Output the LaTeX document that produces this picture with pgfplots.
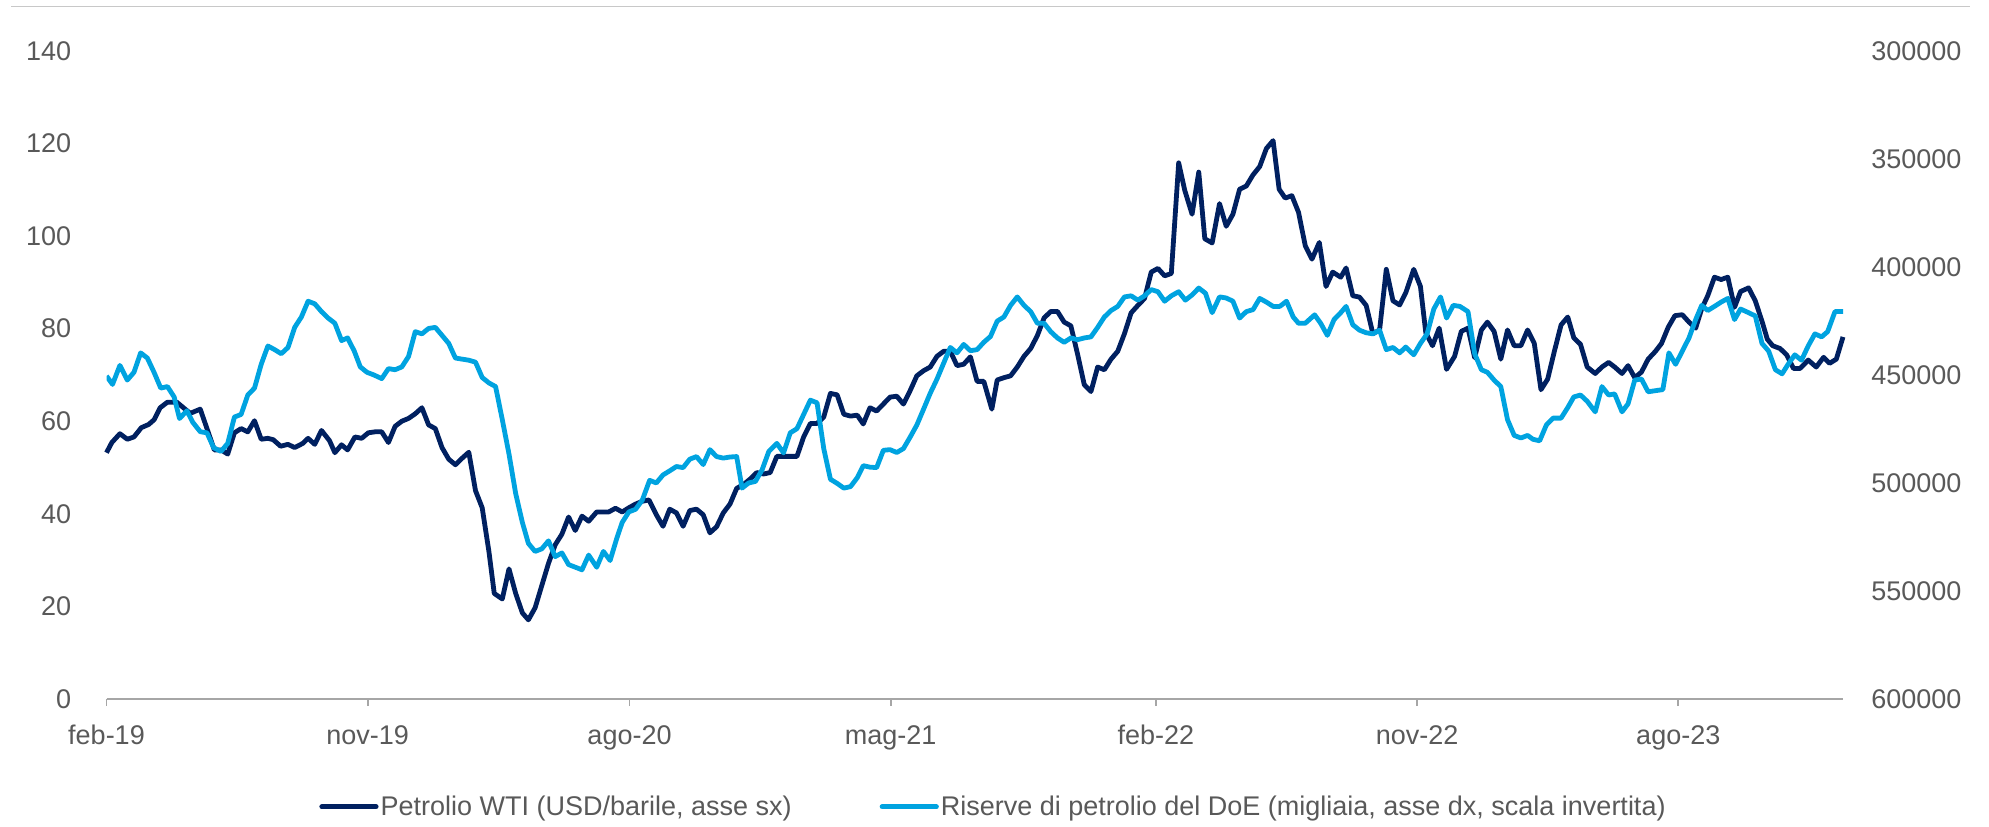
\documentclass[border=0pt]{standalone}
\usepackage{pgfplots}
\pgfplotsset{compat=1.18}
\usepackage{pgfplotstable}
\usepackage{fontspec}
\setmainfont{Liberation Sans}
\definecolor{wti}{HTML}{002060}
\definecolor{doe}{HTML}{00A3E0}
\definecolor{txt}{HTML}{595959}
\definecolor{axgray}{HTML}{A6A6A6}
\definecolor{topgray}{HTML}{C8C8C8}

% WTI (USD/barrel), x = weeks since 1 Feb 2019
\pgfplotstableread{
w v
0.0 53.2
0.8 55.4
2.0 57.3
3.1 56.1
4.1 56.6
5.2 58.6
6.3 59.3
7.1 60.3
8.0 62.9
9.1 64.1
10.5 64.1
11.5 62.9
12.5 61.7
14.0 62.6
15.1 58.0
16.1 53.8
17.1 53.8
18.1 52.9
19.1 57.5
20.1 58.4
21.1 57.7
22.1 60.1
23.1 56.1
24.1 56.3
24.9 56.0
26.0 54.6
27.1 55.0
28.1 54.3
29.3 55.2
30.1 56.3
31.1 55.0
32.1 58.0
33.3 55.8
34.1 53.2
35.1 54.9
36.0 53.8
37.1 56.6
38.1 56.3
39.1 57.5
40.1 57.7
41.1 57.7
42.1 55.4
43.1 58.9
44.1 60.0
45.1 60.6
46.1 61.6
47.1 62.9
48.1 59.2
49.1 58.4
50.1 54.3
51.1 51.8
52.1 50.6
53.1 52.0
54.1 53.3
55.1 45.0
56.1 41.3
57.1 31.9
57.9 22.8
59.1 21.6
60.1 28.1
61.1 22.8
62.1 18.6
63.0 17.1
64.0 19.7
65.0 24.5
66.0 29.3
67.0 33.3
68.0 35.6
69.0 39.3
70.0 36.4
71.0 39.5
72.0 38.4
73.2 40.4
74.2 40.4
75.0 40.4
76.0 41.2
77.0 40.4
78.0 41.3
79.0 42.1
80.0 42.7
81.0 43.0
82.1 39.8
83.1 37.3
84.1 41.0
85.1 40.2
86.1 37.3
87.1 40.7
88.1 41.0
89.1 39.8
90.1 35.9
91.1 37.2
92.1 40.2
93.1 42.1
94.1 45.5
95.1 46.3
96.1 47.5
97.1 48.9
98.1 48.6
99.1 48.9
100.1 52.4
101.1 52.4
102.1 52.4
103.1 52.4
104.1 56.6
105.1 59.5
106.1 59.5
107.1 60.9
108.1 66.0
109.1 65.7
110.1 61.5
111.1 61.1
112.1 61.3
113.0 59.4
114.0 62.9
115.0 62.2
116.0 63.7
117.0 65.2
118.0 65.4
119.0 63.7
120.0 66.6
121.0 69.8
122.0 70.9
123.0 71.7
124.0 74.0
125.0 75.1
126.0 75.1
127.0 72.0
128.0 72.3
129.0 73.9
130.0 68.6
131.0 68.6
132.2 62.6
133.0 68.9
134.0 69.4
135.0 69.8
136.0 71.7
137.0 74.0
138.0 75.7
139.0 78.5
140.0 82.3
141.0 83.7
142.0 83.7
143.0 81.4
144.0 80.6
145.0 74.5
146.0 67.9
147.0 66.4
148.0 71.7
149.0 71.1
150.0 73.4
151.0 75.1
152.0 78.9
153.0 83.4
154.0 85.0
155.0 86.5
156.0 92.2
157.0 93.0
158.0 91.4
159.0 91.9
160.1 115.8
161.0 109.9
162.1 104.7
163.1 113.8
164.0 99.4
165.1 98.5
166.2 107.0
167.2 102.1
168.2 104.7
169.2 110.1
170.2 110.8
171.2 113.2
172.2 115.0
173.2 118.9
174.2 120.6
175.1 110.1
176.0 108.2
177.0 108.7
178.0 105.1
179.0 97.9
180.0 95.0
181.1 98.6
182.1 89.1
183.1 92.2
184.3 91.1
185.1 93.1
186.1 87.1
187.1 86.8
188.1 85.0
189.1 78.9
190.1 79.7
191.1 92.8
192.1 86.0
193.1 85.1
194.0 87.7
195.2 92.8
196.2 89.1
197.0 79.1
198.0 76.3
199.0 80.1
200.1 71.2
201.3 74.0
202.3 79.4
203.3 80.1
204.3 73.7
205.3 79.7
206.2 81.4
207.2 79.4
208.2 73.4
209.2 79.7
210.2 76.3
211.2 76.3
212.2 79.7
213.2 76.8
214.2 66.8
215.2 69.1
216.2 75.1
217.2 80.8
218.2 82.5
219.1 78.0
220.1 76.6
221.1 71.7
222.3 70.3
223.3 71.7
224.3 72.7
225.2 71.7
226.3 70.3
227.2 72.0
228.2 69.4
229.2 70.6
230.2 73.4
231.3 75.1
232.2 76.8
233.2 80.3
234.2 82.8
235.3 83.0
236.3 81.4
237.3 80.1
238.2 84.3
239.1 87.1
240.1 91.1
241.1 90.6
242.1 91.1
243.1 84.6
244.0 88.0
245.2 88.8
246.2 86.0
247.2 81.6
248.0 77.7
248.8 76.3
249.9 75.7
250.9 74.3
251.9 71.4
252.9 71.4
254.1 73.2
255.3 71.7
256.4 73.8
257.3 72.5
258.3 73.4
259.3 78.2
}\wtitable

% DoE reserves (thousand barrels), x = weeks since 1 Feb 2019
\pgfplotstableread{
w r
0.0 450500
0.9 454400
2.0 445600
3.1 452400
4.1 448800
5.1 439800
6.1 442200
7.1 448800
8.1 456100
9.1 455400
10.1 460200
10.9 470200
12.0 466600
12.9 472000
14.0 476300
15.0 476800
16.0 483700
17.1 485400
18.1 481700
19.1 469500
20.1 468300
21.1 459300
22.1 456100
23.1 445100
24.1 436600
25.1 438300
26.1 440200
27.1 437300
28.1 428000
29.1 423200
30.1 415900
31.1 417100
32.1 420700
33.1 423700
34.1 426100
35.1 434100
36.0 432900
37.0 439000
37.9 446300
38.9 448800
39.9 450000
41.1 451700
42.1 447100
43.1 447600
44.1 446300
45.1 441500
46.1 430000
47.1 431000
48.1 428500
49.1 428000
50.1 431700
51.1 435400
52.1 442200
53.1 442700
54.1 443200
55.1 444100
56.1 451200
57.1 453700
58.1 455400
59.1 470700
60.1 486600
61.1 504900
62.1 518300
63.0 528000
64.0 531700
65.0 530500
66.0 526800
67.0 534100
68.0 532400
69.0 537800
70.0 539000
71.0 540200
72.0 533400
73.2 539000
74.2 531700
75.2 535900
76.2 525600
77.0 518300
78.0 513400
79.0 512200
80.0 508000
81.1 498800
82.1 500000
83.1 496300
84.1 494400
85.1 492400
86.1 492900
87.1 489000
88.1 487800
89.1 491500
90.1 484600
91.1 487800
92.1 488500
93.1 488000
94.1 487800
94.9 502400
95.9 500000
96.9 499300
97.9 493900
98.9 485400
100.1 481700
101.1 486100
102.1 476800
103.1 474900
104.1 468300
105.1 461700
106.1 462900
107.1 484100
108.1 498300
109.1 500200
110.1 502400
111.1 501700
112.1 497600
113.0 492000
114.0 492700
115.0 492900
116.0 484900
117.0 484600
118.0 485900
119.0 484100
120.0 478800
121.0 473200
122.0 465900
123.0 458500
124.0 452000
125.0 444600
126.0 437300
127.0 439800
128.0 435900
129.0 438800
130.0 438300
131.0 434900
132.0 432200
133.0 425100
134.0 423200
135.0 417800
136.0 413900
137.0 417800
138.0 420700
139.0 426100
140.0 426100
141.0 430000
142.0 432900
143.0 434900
144.0 432900
145.0 433700
146.0 432900
147.0 432400
148.0 428000
149.0 423200
150.0 420200
151.0 418300
152.0 413900
153.0 413400
154.0 415400
155.0 413400
156.0 410500
157.0 411500
158.0 415900
159.0 413400
160.1 411500
161.1 415400
162.1 413000
163.1 409800
164.1 412200
165.1 421200
166.2 413900
167.2 414400
168.2 415900
169.2 423700
170.2 420700
171.2 419800
172.2 414600
173.2 416300
174.2 418300
175.2 418300
176.2 415900
177.2 423200
178.0 426100
179.0 426100
180.4 422200
181.3 426100
182.3 431700
183.3 424400
184.3 421200
185.1 418300
186.1 426800
187.1 429300
188.1 430500
189.1 431000
190.1 429300
191.1 438300
192.1 437300
193.1 439800
194.0 437100
195.2 440700
196.2 435400
197.2 431000
198.2 419500
199.2 413900
200.1 423700
201.1 417800
202.1 418300
203.3 420700
204.3 440200
205.3 447600
206.2 448800
207.2 452400
208.2 455400
209.2 470700
210.2 478000
211.2 479200
212.2 478000
213.0 479800
214.0 480500
215.0 473200
216.0 470000
217.2 470000
218.2 465100
219.1 460200
220.1 459300
221.1 462200
222.3 467100
223.3 455400
224.3 459300
225.2 458800
226.3 467100
227.2 463400
228.2 452400
229.2 451900
230.2 457800
231.3 457300
232.4 456800
233.3 439800
234.3 445100
235.3 439000
236.3 432900
237.3 424400
238.2 417800
239.1 420200
240.1 418300
241.1 416300
242.1 414600
243.1 424400
244.0 419500
245.2 421200
246.2 422700
247.2 435400
248.2 439000
249.2 447600
250.2 449500
251.1 445100
252.1 440700
253.1 443200
254.1 436600
255.1 431000
256.1 432400
257.0 430000
258.1 420700
259.3 420700
}\doetable

\begin{document}
\begin{tikzpicture}
\begin{axis}[
  at={(53.25bp,64bp)}, anchor=south west,
  scale only axis, width=868.25bp, height=324.1bp,
  xmin=0, xmax=259.3, ymin=0, ymax=140,
  axis x line*=bottom, axis y line*=left,
  x axis line style={axgray, line width=0.9bp},
  y axis line style={draw=none},
  xtick={0,39,78.1,117.1,156.7,195.7,234.7},
  xticklabels={feb-19,nov-19,ago-20,mag-21,feb-22,nov-22,ago-23},
  ytick={0,20,40,60,80,100,120,140},
  yticklabels={0,20,40,60,80,100,120,140},
  tick align=outside, major tick length=3.5bp,
  xtick style={axgray, line width=0.9bp},
  ytick style={draw=none},
  tick label style={font=\fontsize{13.5bp}{16bp}\selectfont, text=txt},
  xticklabel style={inner sep=0pt, yshift=-9.5bp},
  yticklabel style={inner sep=0pt, anchor=east, xshift=-14bp},
  legend style={at={(0.5108,-0.1663)}, anchor=center, draw=none, fill=none,
    font=\fontsize{13.5bp}{16bp}\selectfont, text=txt,
    legend columns=2, inner sep=0pt,
    /tikz/every even column/.append style={column sep=43bp},
    nodes={inner sep=1bp}},
  legend image code/.code={\draw[#1, line cap=round, line width=2.6bp] (0bp,0bp) -- (27bp,0bp);},
  clip=false,
]
\addplot[wti, line width=2.4bp, line join=round, mark=none] table[x=w, y=v] {\wtitable};
\addlegendentry{Petrolio WTI (USD/barile, asse sx)}
\addlegendimage{doe, line width=2.4bp}
\addlegendentry{Riserve di petrolio del DoE (migliaia, asse dx, scala invertita)}
\end{axis}
\begin{axis}[
  at={(53.25bp,64bp)}, anchor=south west,
  scale only axis, width=868.25bp, height=324.1bp,
  xmin=0, xmax=259.3, ymin=300000, ymax=600000,
  y dir=reverse,
  hide x axis,
  axis y line*=right,
  y axis line style={draw=none},
  ytick={300000,350000,400000,450000,500000,550000,600000},
  yticklabels={300000,350000,400000,450000,500000,550000,600000},
  ytick style={draw=none},
  scaled y ticks=false,
  tick label style={font=\fontsize{13.5bp}{16bp}\selectfont, text=txt},
  yticklabel style={inner sep=0pt, anchor=west, xshift=14bp},
]
\addplot[doe, line width=2.4bp, line join=round, mark=none] table[x=w, y=r] {\doetable};
\end{axis}
\draw[topgray, line width=0.7bp] (5.5bp,410.3bp) -- (985bp,410.3bp);
\pgfresetboundingbox
\useasboundingbox (0,0) rectangle (994.5bp,413.5bp);
\end{tikzpicture}
\end{document}
